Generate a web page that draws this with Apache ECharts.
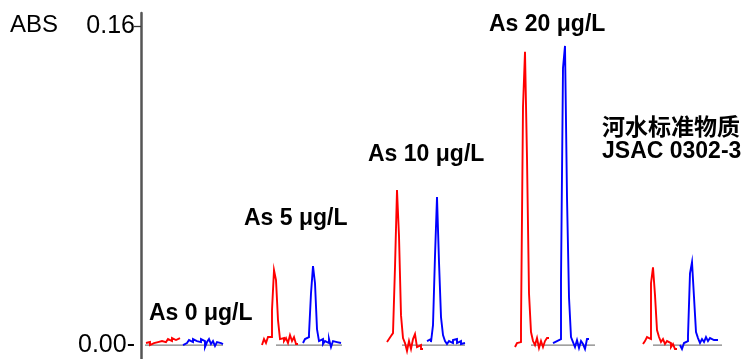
<!DOCTYPE html>
<html>
<head>
<meta charset="utf-8">
<script src="https://cdn.jsdelivr.net/npm/echarts@6/dist/echarts.min.js"></script>
<style>
html,body{margin:0;padding:0;background:#fff;}
#c{width:745px;height:359px;}
</style>
</head>
<body>
<div id="c"></div>
<script>
// ---- data (x in sample units, one sample per step; y in ABS) ----
const yTicks = [0, 0.16];
const yLabels = ['0.00', '0.16'];
const yName = 'ABS';

const groupLabels = ['As 0 μg/L', 'As 5 μg/L', 'As 10 μg/L', 'As 20 μg/L', '河水标准物质', 'JSAC 0302-3'];

// trace start positions (sample units)
const redStarts  = [2.5, 60.5, 123, 187, 251];
const blueStarts = [21, 81, 143, 206, 269.5];

const red0  = [0.001,0.0015,0.000,0.001,0.002,0.0015,0.001,0.002,0.0025,0.0015,0.002,0.003,0.002,0.0035,0.0025,0.003,0.0035];
const blue0 = [0.000,0.001,0.0005,0.0025,0.0015,0.003,0.002,0.001,0.0015,0.003,0.002,-0.001,0.0015,0.003,0.0005,0.002,-0.0005,0.0015,0.001,0.0005];

const red5  = [0.000,0.003,0.001,0.004,0.004,0.0175,0.0376,0.0326,0.0125,0.003,0.0035,0.002,0.0035,0.001,0.005,0.002,0.004,0.0005];
const blue5 = [0.001,0.003,0.004,0.0055,0.026,0.0396,0.031,0.008,0.002,0.003,0.0005,0.002,0.001,0.003,-0.001,0.002,0.0015,0.0005,0.001];

const red10  = [0.0015,0.003,0.0045,0.006,0.039,0.0777,0.0547,0.015,0.0035,0.001,-0.003,0.002,-0.002,0.003,0.0055,-0.001,0.000,-0.002];
const blue10 = [0.002,0.003,0.0015,0.010,0.0446,0.0742,0.0416,0.014,0.005,0.002,0.0005,0.002,0.001,0.0025,0.003,0.001,0.002,0.0005,0.001];

const red20  = [-0.001,0.001,0.0015,0.010,0.1193,0.147,0.0938,0.026,0.0065,0.002,0.000,0.0035,-0.0015,0.002,-0.001,0.002,0.0035];
const blue20 = [0.001,0.002,0.0025,0.003,0.0326,0.1389,0.150,0.0742,0.024,0.004,0.0015,-0.001,0.0025,-0.0015,0.002,0.0005,-0.002,0.003];

const redJ  = [0.0005,0.002,0.004,0.003,0.031,0.039,0.025,0.0075,0.004,0.0015,0.003,0.0005,0.002,0.001,-0.001,0.0005,-0.002];
const blueJ = [0.000,-0.002,0.001,0.002,0.0045,0.036,0.0416,0.024,0.0065,0.0035,0.001,0.003,0.0015,0.004,0.002,0.0035,0.0025,0.003,0.0025];

// gray zero baselines per group [from, to] in sample units
const baselines = [[2,41],[67.5,100.5],[130.5,162],[195,227],[256,290.5]];

const redTraces  = [red0, red5, red10, red20, redJ];
const blueTraces = [blue0, blue5, blue10, blue20, blueJ];

// ---- build ----
function toSeries(vals, start, color) {
  // each sample holds its value for one sample width (step trace)
  const d = [];
  vals.forEach((v, i) => { d.push([start + i, v]); d.push([start + i + 1, v]); });
  return {
    type: 'line', data: d, symbol: 'none', silent: true,
    lineStyle: { color: color, width: 1.9, join: 'miter' }, z: 3, animation: false
  };
}

const series = [];
baselines.forEach(b => series.push({
  type: 'line', data: [[b[0], 0], [b[1], 0]], symbol: 'none', silent: true,
  lineStyle: { color: '#808080', width: 1.2 }, z: 2, animation: false
}));
redTraces.forEach((t, i) => series.push(toSeries(t, redStarts[i], '#ff0000')));
blueTraces.forEach((t, i) => series.push(toSeries(t, blueStarts[i], '#0000ff')));

const latin = '"Liberation Sans", Arial, sans-serif';
const cjk = '"Noto Sans CJK SC", "Liberation Sans", sans-serif';

function label(text, x, y, font) {
  return { type: 'text', x: x, y: y, silent: true,
    style: { text: text, font: font, fill: '#000', align: 'left', verticalAlign: 'middle' } };
}

const chart = echarts.init(document.getElementById('c'));
chart.setOption({
  animation: false,
  backgroundColor: '#fff',
  grid: { left: 141, right: 0, top: 13, bottom: 0 },
  xAxis: { type: 'value', min: 0, max: 302, show: false },
  yAxis: {
    type: 'value', min: -0.007, max: 0.1665, offset: 1,
    splitLine: { show: false },
    axisLine: { show: true, lineStyle: { color: '#555', width: 2.5 } },
    axisTick: { show: true, customValues: [yTicks[1]], length: 7, lineStyle: { color: '#333', width: 1.3 } },
    axisLabel: {
      customValues: yTicks, margin: 5, color: '#000',
      fontFamily: '"Liberation Sans", Arial, sans-serif', fontSize: 25,
      formatter: v => Math.abs(v) < 1e-9 ? yLabels[0] + '-' : yLabels[1]
    }
  },
  graphic: [
    label(yName, 10, 25, '24px ' + latin),
    label(groupLabels[0], 149, 314, 'bold 23px ' + latin),
    label(groupLabels[1], 244, 219, 'bold 23px ' + latin),
    label(groupLabels[2], 368, 155, 'bold 23px ' + latin),
    label(groupLabels[3], 489, 24.5, 'bold 23px ' + latin),
    label(groupLabels[4], 602, 126, 'bold 23px ' + cjk),
    label(groupLabels[5], 602, 152, 'bold 23px ' + latin)
  ],
  series: series
});
</script>
</body>
</html>
